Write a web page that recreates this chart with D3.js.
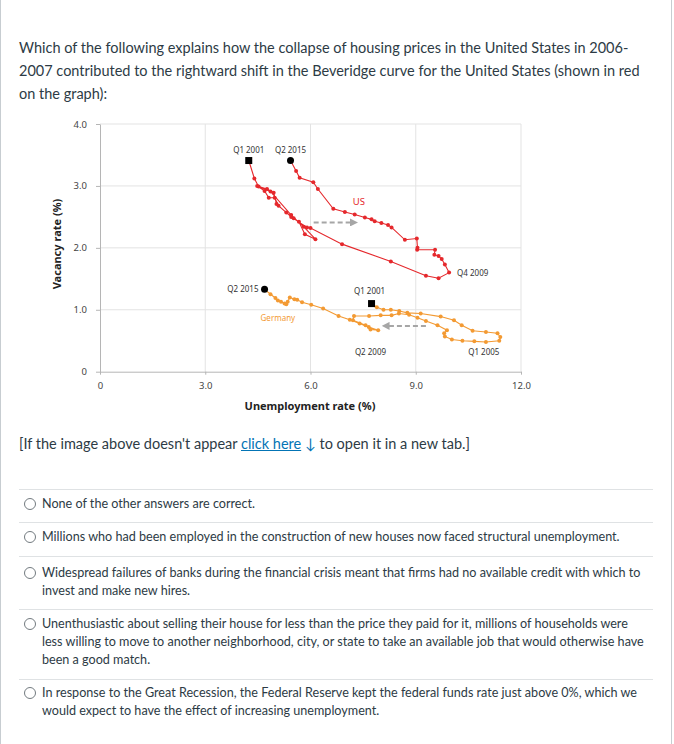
<!DOCTYPE html>
<html>
<head>
<meta charset="utf-8">
<script src="https://cdn.jsdelivr.net/npm/d3@7/dist/d3.min.js"></script>
<style>
  html, body { margin: 0; padding: 0; background: #fff; }
  body { width: 674px; height: 744px; position: relative; overflow: hidden; font-family: Lato, "Open Sans", sans-serif; color: #2d3b45; }
  .frame { position: absolute; left: 0; top: 0; width: 670px; height: 744px; border-left: 1px solid #c7cdd1; border-right: 1px solid #c7cdd1; }
  .q { position: absolute; left: 19px; top: 36px; width: 650px; font-size: 14.5px; line-height: 23px; white-space: nowrap; }
  .link { position: absolute; left: 19px; top: 433px; font-size: 14.5px; line-height: 22px; white-space: nowrap; }
  .link a { color: #0374b5; text-decoration: underline; }
  .link .arr { color: #0374b5; }
  .sep { position: absolute; left: 19px; width: 634px; height: 1px; background: #dfe2e4; }
  .opt { position: absolute; left: 42px; font-size: 12.6px; line-height: 18px; white-space: nowrap; }
  .radio { position: absolute; left: 24px; width: 10px; height: 10px; border: 1px solid #737b80; border-radius: 50%; background: #fff; }
  svg { position: absolute; left: 0; top: 0; }
</style>
</head>
<body>
<div class="frame"></div>
<div class="q">Which of the following explains how the collapse of housing prices in the United States in 2006-<br>2007 contributed to the rightward shift in the Beveridge curve for the United States (shown in red<br>on the graph):</div>
<svg id="chart" width="674" height="430"></svg>
<div class="link">[If the image above doesn't appear <a>click here</a> <span class="arr">&#x2193;</span> to open it in a new tab.]</div>
<div id="options"></div>
<script>
// ---------------- data ----------------
const xTickValues = [0, 3, 6, 9, 12];
const xTickLabels = ["0", "3.0", "6.0", "9.0", "12.0"];
const yTickValues = [0, 1, 2, 3, 4];
const yTickLabels = ["0", "1.0", "2.0", "3.0", "4.0"];

// United States, quarterly Q1 2001 .. Q2 2015 (unemployment %, vacancy %)
const usUnemployment = [4.24,4.40,4.52,4.86,5.45,5.81,6.14,5.84,5.67,5.52,5.31,5.09,4.98,4.81,4.69,4.48,4.76,4.95,5.03,5.45,5.90,6.00,6.90,8.29,9.29,9.65,9.95,9.83,9.74,9.65,9.53,9.55,9.04,9.05,9.03,8.69,8.31,8.21,8.02,7.83,7.74,7.55,7.26,6.98,6.65,6.21,6.08,5.69,5.59,5.43];
const usVacancy      = [3.41,3.12,2.99,2.91,2.53,2.34,2.14,2.22,2.42,2.48,2.57,2.68,2.81,2.81,2.92,3.00,2.95,2.89,2.71,2.50,2.33,2.32,2.06,1.78,1.55,1.51,1.60,1.73,1.82,1.87,1.89,1.97,1.97,2.00,2.15,2.13,2.33,2.37,2.40,2.43,2.46,2.49,2.54,2.58,2.63,2.95,3.06,3.13,3.24,3.41];

// Germany, quarterly Q1 2001 .. Q2 2015
const deUnemployment = [7.74,7.89,8.08,8.29,8.53,8.76,9.14,9.71,10.09,10.31,10.62,11.00,11.33,11.41,11.38,11.00,10.67,10.33,10.03,9.83,9.81,9.89,9.62,9.29,9.05,8.81,8.52,8.31,8.00,7.67,7.24,7.21,7.57,7.71,7.93,7.66,7.40,7.12,6.80,6.36,6.02,5.76,5.62,5.54,5.41,5.35,5.31,5.26,5.16,5.07,5.00,4.86,4.69];
const deVacancy      = [1.10,1.04,1.00,1.00,0.98,0.95,0.94,0.89,0.83,0.75,0.66,0.64,0.62,0.56,0.50,0.48,0.49,0.50,0.52,0.57,0.62,0.67,0.75,0.82,0.87,0.92,0.94,0.91,0.91,0.90,0.90,0.83,0.75,0.68,0.67,0.72,0.78,0.84,0.90,1.02,1.08,1.12,1.16,1.17,1.20,1.13,1.09,1.10,1.13,1.15,1.19,1.25,1.33];

const annotations = [
  {text: "Q1 2001", u: 4.24, v: 3.41, dx: 0, dy: -10, anchor: "middle", color: "#333"},
  {text: "Q2 2015", u: 5.43, v: 3.41, dx: 0, dy: -10, anchor: "middle", color: "#333"},
  {text: "US", u: 7.38, v: 2.74, dx: 0, dy: 0, anchor: "middle", color: "#e5282c", size: 9.5},
  {text: "Q4 2009", u: 9.95, v: 1.60, dx: 8, dy: 1, anchor: "start", color: "#333"},
  {text: "Q1 2001", u: 7.74, v: 1.10, dx: -2, dy: -12, anchor: "middle", color: "#333"},
  {text: "Q2 2015", u: 4.69, v: 1.33, dx: -6, dy: 0, anchor: "end", color: "#333"},
  {text: "Germany", u: 5.07, v: 0.87, dx: 0, dy: 0, anchor: "middle", color: "#f39a33"},
  {text: "Q2 2009", u: 7.71, v: 0.32, dx: 0, dy: 0, anchor: "middle", color: "#333"},
  {text: "Q1 2005", u: 10.94, v: 0.32, dx: 0, dy: 0, anchor: "middle", color: "#333"}
];
// shift arrows (from -> to)
const arrows = [
  {u0: 6.09, u1: 7.24, v: 2.41},
  {u0: 9.29, u1: 8.14, v: 0.74}
];

const optionLines = [
  ["None of the other answers are correct."],
  ["Millions who had been employed in the construction of new houses now faced structural unemployment."],
  ["Widespread failures of banks during the financial crisis meant that firms had no available credit with which to", "invest and make new hires."],
  ["Unenthusiastic about selling their house for less than the price they paid for it, millions of households were", "less willing to move to another neighborhood, city, or state to take an available job that would otherwise have", "been a good match."],
  ["In response to the Great Recession, the Federal Reserve kept the federal funds rate just above 0%, which we", "would expect to have the effect of increasing unemployment."]
];
const optionTops = [495, 528, 564, 615, 684];
const sepTops = [489, 522, 556, 609, 679];

// ---------------- chart ----------------
const svg = d3.select("#chart");
const x = d3.scaleLinear().domain([0, 12]).range([100, 521]);
const y = d3.scaleLinear().domain([0, 4]).range([371.7, 124]);
const font = "'Noto Sans', 'Open Sans', sans-serif";

// grid
svg.append("g").selectAll("line").data(xTickValues.slice(1)).join("line")
  .attr("x1", d => x(d)).attr("x2", d => x(d)).attr("y1", y(0)).attr("y2", y(4))
  .attr("stroke", "#e3e3e3").attr("stroke-width", 1);
svg.append("g").selectAll("line").data(yTickValues.slice(1)).join("line")
  .attr("x1", x(0)).attr("x2", x(12)).attr("y1", d => y(d)).attr("y2", d => y(d))
  .attr("stroke", "#e3e3e3").attr("stroke-width", 1);

// axes
const xAxis = d3.axisBottom(x).tickValues(xTickValues).tickFormat((d, i) => xTickLabels[i]).tickSize(3).tickPadding(8).tickSizeOuter(0);
const yAxis = d3.axisLeft(y).tickValues(yTickValues).tickFormat((d, i) => yTickLabels[i]).tickSize(4).tickPadding(9).tickSizeOuter(0);
const gx = svg.append("g").attr("transform", `translate(0,${y(0)})`).call(xAxis);
const gy = svg.append("g").attr("transform", `translate(${x(0)},0)`).call(yAxis);
[gx, gy].forEach(g => {
  g.select(".domain").attr("stroke", "#b5b5b5");
  g.selectAll(".tick line").attr("stroke", "#b5b5b5");
  g.selectAll(".tick text").attr("fill", "#444").style("font-family", font).style("font-size", "9.5px");
});

// axis titles
svg.append("text").attr("x", 310).attr("y", 410).attr("text-anchor", "middle")
  .style("font-family", font).style("font-size", "11px").style("font-weight", "bold").attr("fill", "#222")
  .text("Unemployment rate (%)");
svg.append("text").attr("transform", "translate(61,244) rotate(-90)").attr("text-anchor", "middle")
  .style("font-family", font).style("font-size", "11px").style("font-weight", "bold").attr("fill", "#222")
  .text("Vacancy rate (%)");

// arrows
const defs = svg.append("defs");
defs.append("marker").attr("id", "ah").attr("viewBox", "0 0 10 10").attr("refX", 5).attr("refY", 5)
  .attr("markerWidth", 4).attr("markerHeight", 4).attr("orient", "auto")
  .append("path").attr("d", "M0,0 L10,5 L0,10 z").attr("fill", "#a6a6a6");
svg.append("g").selectAll("line").data(arrows).join("line")
  .attr("x1", d => x(d.u0)).attr("x2", d => x(d.u1)).attr("y1", d => y(d.v)).attr("y2", d => y(d.v))
  .attr("stroke", "#a6a6a6").attr("stroke-width", 2).attr("stroke-dasharray", "5,3")
  .attr("marker-end", "url(#ah)");

// series
function drawSeries(us, vs, color) {
  const pts = us.map((u, i) => [u, vs[i]]);
  const line = d3.line().x(d => x(d[0])).y(d => y(d[1]));
  svg.append("path").datum(pts).attr("d", line).attr("fill", "none").attr("stroke", color).attr("stroke-width", 1.1);
  svg.append("g").selectAll("circle").data(pts).join("circle")
    .attr("cx", d => x(d[0])).attr("cy", d => y(d[1])).attr("r", 2).attr("fill", color);
  const s = pts[0], e = pts[pts.length - 1];
  svg.append("rect").attr("x", x(s[0]) - 3.5).attr("y", y(s[1]) - 3.5).attr("width", 7).attr("height", 7).attr("fill", "#000");
  svg.append("circle").attr("cx", x(e[0])).attr("cy", y(e[1])).attr("r", 3.5).attr("fill", "#000");
}
drawSeries(usUnemployment, usVacancy, "#e5282c");
drawSeries(deUnemployment, deVacancy, "#f39a33");

// annotations
svg.append("g").selectAll("text").data(annotations).join("text")
  .attr("x", d => x(d.u) + d.dx).attr("y", d => y(d.v) + d.dy).attr("dy", "0.35em")
  .attr("text-anchor", d => d.anchor).attr("fill", d => d.color)
  .style("font-family", font).style("font-size", d => (d.size || 8) + "px")
  .text(d => d.text);

// ---------------- options ----------------
const opts = d3.select("#options");
sepTops.forEach(t => opts.append("div").attr("class", "sep").style("top", t + "px"));
optionLines.forEach((lines, i) => {
  opts.append("div").attr("class", "radio").style("top", (optionTops[i] + 3) + "px");
  opts.append("div").attr("class", "opt").style("top", optionTops[i] + "px").html(lines.join("<br>"));
});
</script>
</body>
</html>
